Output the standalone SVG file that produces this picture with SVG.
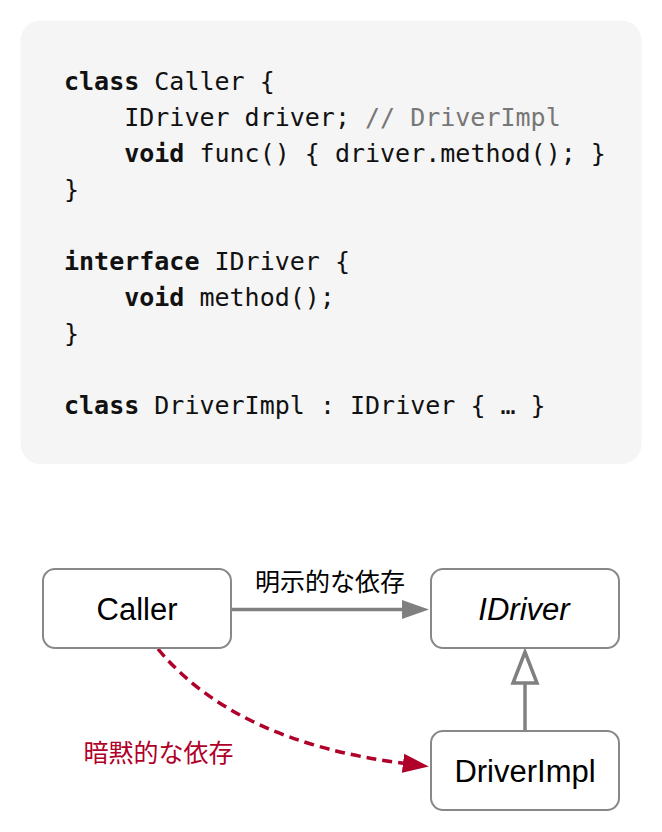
<svg xmlns="http://www.w3.org/2000/svg" width="662" height="832" viewBox="0 0 662 832">
<style>
.code{font-family:"DejaVu Sans Mono","Liberation Mono",monospace;font-size:25px;fill:#111}
.kw{font-weight:bold}
.cm{fill:#777}
.box{fill:#fff;stroke:#888;stroke-width:2}
.lbl{font-family:"Liberation Sans",Arial,Helvetica,sans-serif;font-size:31px;fill:#000;text-anchor:middle}
.jp{font-family:"Noto Sans CJK JP","Noto Sans",sans-serif;font-size:25px}
.gray{fill:none;stroke:#808080;stroke-width:3.5}
.red{fill:none;stroke:#b0002a;stroke-width:3.5;stroke-dasharray:10 6}
</style>
<defs>
<marker id="headGray" markerUnits="userSpaceOnUse" viewBox="0 -10 27 20" refX="1" refY="0" markerWidth="27" markerHeight="20" orient="auto">
<path d="M0,-9.5 L27,0 L0,9.5 Z" fill="#808080"/>
</marker>
<marker id="headRed" markerUnits="userSpaceOnUse" viewBox="0 -10 26 20" refX="2" refY="0" markerWidth="26" markerHeight="20" orient="auto">
<path d="M0,-9.5 L26,0 L0,9.5 Z" fill="#b0002a"/>
</marker>
<marker id="headHollow" markerUnits="userSpaceOnUse" viewBox="-3 -15 37 30" refX="0" refY="0" markerWidth="37" markerHeight="30" orient="auto">
<path d="M0,-12 L31,0 L0,12 Z" fill="#fff" stroke="#808080" stroke-width="3.5"/>
</marker>
</defs>

<g id="code">
<rect x="20.5" y="20.5" width="621" height="443.5" rx="20" fill="#f5f5f5"/>
<text class="code" x="64" y="90"><tspan class="kw">class</tspan> Caller {</text>
<text class="code" x="124.2" y="126">IDriver driver; <tspan class="cm">// DriverImpl</tspan></text>
<text class="code" x="124.2" y="162"><tspan class="kw">void</tspan> func() { driver.method(); }</text>
<text class="code" x="64" y="198">}</text>
<text class="code" x="64" y="270"><tspan class="kw">interface</tspan> IDriver {</text>
<text class="code" x="124.2" y="306"><tspan class="kw">void</tspan> method();</text>
<text class="code" x="64" y="342">}</text>
<text class="code" x="64" y="414"><tspan class="kw">class</tspan> DriverImpl : IDriver { … }</text>
</g>

<g id="connectors">
<g id="edge-explicit">
<path class="gray" d="M231,609.5 L403,609.5" marker-end="url(#headGray)"/>
<text class="jp" x="330" y="591" text-anchor="middle" fill="#000">明示的な依存</text>
</g>
<g id="edge-implements">
<path class="gray" d="M525,731 L525,683" marker-end="url(#headHollow)"/>
</g>
<g id="edge-implicit">
<path class="red" d="M158,649 Q235,742 405,763.5" marker-end="url(#headRed)"/>
<text class="jp" x="158.5" y="761.5" text-anchor="middle" fill="#b0002a">暗黙的な依存</text>
</g>
</g>

<g id="node-caller">
<rect class="box" x="43" y="569" width="188" height="79" rx="12"/>
<text class="lbl" x="137" y="620">Caller</text>
</g>
<g id="node-idriver">
<rect class="box" x="431" y="569" width="188" height="79" rx="12"/>
<text class="lbl" x="524" y="620" font-style="italic">IDriver</text>
</g>
<g id="node-driverimpl">
<rect class="box" x="431" y="731" width="188" height="79" rx="12"/>
<text class="lbl" x="525" y="782">DriverImpl</text>
</g>
</svg>
